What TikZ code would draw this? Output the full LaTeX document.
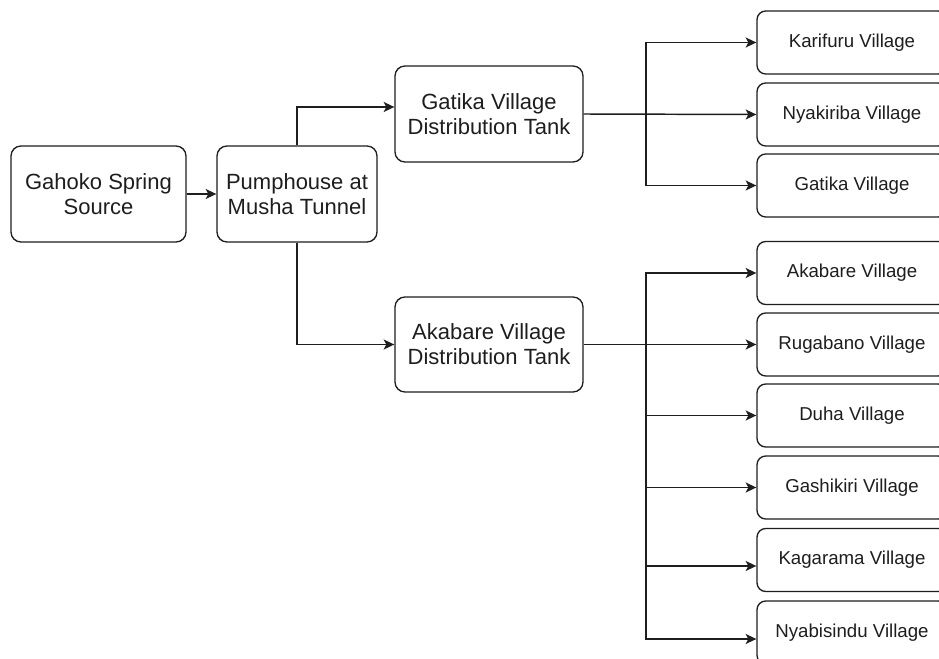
\documentclass[tikz,border=0pt]{standalone}
\usepackage{fontspec}
\setmainfont{Liberation Sans}
\usetikzlibrary{arrows.meta}
\definecolor{ink}{HTML}{1E1E1E}
\begin{document}
\begin{tikzpicture}[x=0.75pt,y=-0.75pt,
  box/.style={draw=ink,line width=1pt,rounded corners=7.5pt,align=center,
    text=ink,inner sep=0pt,font=\fontsize{16.5pt}{18.75pt}\selectfont},
  vbox/.style={draw=ink,line width=1pt,rounded corners=6.5pt,align=center,
    text=ink,inner sep=0pt,minimum width=190*0.75pt,minimum height=63*0.75pt,
    font=\fontsize{14pt}{16pt}\selectfont},
  link/.style={draw=ink,line width=1.1pt},
  arr/.style={link,-{Stealth[length=8pt,width=7.5pt,inset=2pt]}}]
\useasboundingbox (0,0) rectangle (939,659);
\clip (0,0) rectangle (939,659);
\fill[white] (0,0) rectangle (939,659);

\node[box,minimum width=175*0.75pt,minimum height=96*0.75pt] (src) at (98.5,194) {Gahoko Spring\\Source};
\node[box,minimum width=160*0.75pt,minimum height=96*0.75pt] (pump) at (297,194) {Pumphouse at\\Musha Tunnel};
\node[box,minimum width=188*0.75pt,minimum height=96*0.75pt] (gtank) at (489,114) {Gatika Village\\Distribution Tank};
\node[box,minimum width=188*0.75pt,minimum height=95*0.75pt] (atank) at (489,344.5) {Akabare Village\\Distribution Tank};

\node[vbox] (kar) at (852,42.5) {Karifuru Village};
\node[vbox] (nya) at (852,114.5) {Nyakiriba Village};
\node[vbox] (gat) at (852,185.5) {Gatika Village};

\node[vbox] (aka) at (852,273) {Akabare Village};
\node[vbox] (rug) at (852,344.5) {Rugabano Village};
\node[vbox] (duh) at (852,415.5) {Duha Village};
\node[vbox] (gas) at (852,487.5) {Gashikiri Village};
\node[vbox] (kag) at (852,560) {Kagarama Village};
\node[vbox] (nyb) at (852,632.5) {Nyabisindu Village};

\coordinate (gb) at (646,114);
\coordinate (ab) at (646,344.5);

\draw[arr] (src.east) -- (pump.west);
\draw[arr] (pump.north) |- ([yshift=7*0.75pt]gtank.west);
\draw[arr] (pump.south) |- (atank.west);

\draw[arr] (gtank.east) -- (nya.west);
\draw[arr] (gb) |- (kar.west);
\draw[arr] (gb) |- (gat.west);

\draw[arr] (atank.east) -- (rug.west);
\draw[arr] (ab) |- (aka.west);
\draw[arr] (ab) |- (duh.west);
\draw[arr] (ab) |- (gas.west);
\draw[arr] (ab) |- ([yshift=-6*0.75pt]kag.west);
\draw[arr] (ab) |- ([yshift=-6.5*0.75pt]nyb.west);
\end{tikzpicture}
\end{document}
